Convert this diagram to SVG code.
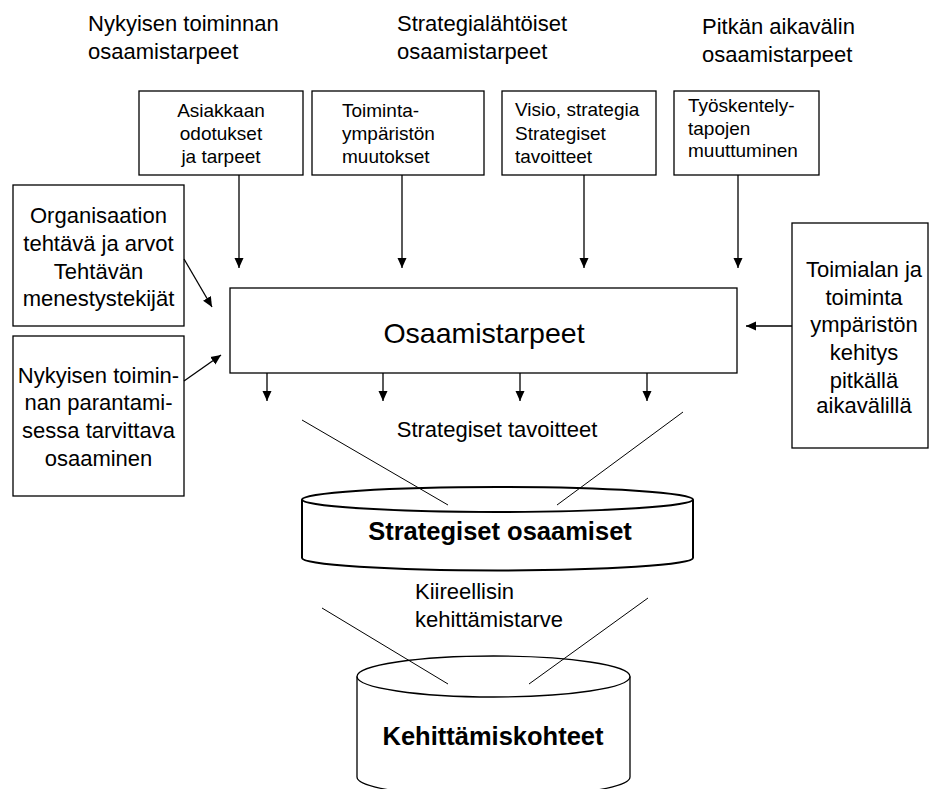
<svg xmlns="http://www.w3.org/2000/svg" width="929" height="789" viewBox="0 0 929 789">
<style>
text{font-family:"Liberation Sans",Arial,sans-serif;fill:#000}
.lbl{font-size:22px}
.sm{font-size:19px}
.big{font-size:28.5px}
.bold{font-size:25.5px;font-weight:bold}
.box{fill:#fff;stroke:#000;stroke-width:1.3}
.cyl{fill:#fff;stroke:#000;stroke-width:2}
.ln{stroke:#000;stroke-width:1.3;fill:none}
.thin{stroke:#000;stroke-width:1;fill:none}
</style>
<defs>
<marker id="ah" markerUnits="userSpaceOnUse" markerWidth="10" markerHeight="10" viewBox="0 0 10 10" refX="10" refY="5" orient="auto">
<path d="M0,0.5 L10,5 L0,9.5 Z" fill="#000"/>
</marker>
</defs>
<rect width="929" height="789" fill="#fff"/>

<g id="header1"><text class="lbl" x="88" y="31">Nykyisen toiminnan</text><text class="lbl" x="88" y="59">osaamistarpeet</text></g>
<g id="header2"><text class="lbl" x="397" y="31">Strategialähtöiset</text><text class="lbl" x="397" y="59">osaamistarpeet</text></g>
<g id="header3"><text class="lbl" x="702" y="34">Pitkän aikavälin</text><text class="lbl" x="702" y="62">osaamistarpeet</text></g>

<g id="n_asiakkaan"><rect class="box" x="139" y="91" width="164" height="84"/>
<text class="sm" text-anchor="middle" x="221" y="117">Asiakkaan</text>
<text class="sm" text-anchor="middle" x="221" y="140">odotukset</text>
<text class="sm" text-anchor="middle" x="221" y="163">ja tarpeet</text></g>

<g id="n_toimintaymparisto"><rect class="box" x="312" y="91" width="172" height="84"/>
<text class="sm" x="342" y="117">Toiminta-</text>
<text class="sm" x="342" y="140">ympäristön</text>
<text class="sm" x="342" y="163">muutokset</text></g>

<g id="n_visio"><rect class="box" x="502" y="91" width="154" height="84"/>
<text class="sm" x="515" y="116">Visio, strategia</text>
<text class="sm" x="515" y="140">Strategiset</text>
<text class="sm" x="515" y="163">tavoitteet</text></g>

<g id="n_tyoskentely"><rect class="box" x="674" y="91" width="145" height="84"/>
<text class="sm" x="688" y="112">Työskentely-</text>
<text class="sm" x="688" y="135">tapojen</text>
<text class="sm" x="688" y="157">muuttuminen</text></g>

<g id="n_organisaatio"><rect class="box" x="13" y="185" width="171" height="141"/>
<text class="lbl" text-anchor="middle" x="98.5" y="223">Organisaation</text>
<text class="lbl" text-anchor="middle" x="98.5" y="251">tehtävä ja arvot</text>
<text class="lbl" text-anchor="middle" x="98.5" y="279">Tehtävän</text>
<text class="lbl" text-anchor="middle" x="98.5" y="306">menestystekijät</text></g>

<g id="n_parantaminen"><rect class="box" x="13" y="336" width="171" height="160"/>
<text class="lbl" text-anchor="middle" x="98.5" y="383">Nykyisen toimin-</text>
<text class="lbl" text-anchor="middle" x="98.5" y="410">nan parantami-</text>
<text class="lbl" text-anchor="middle" x="98.5" y="438">sessa tarvittava</text>
<text class="lbl" text-anchor="middle" x="98.5" y="466">osaaminen</text></g>

<g id="n_toimiala"><rect class="box" x="792" y="223" width="136" height="225"/>
<text class="lbl" text-anchor="middle" x="864" y="277">Toimialan ja</text>
<text class="lbl" text-anchor="middle" x="864" y="305">toiminta</text>
<text class="lbl" text-anchor="middle" x="864" y="332">ympäristön</text>
<text class="lbl" text-anchor="middle" x="864" y="360">kehitys</text>
<text class="lbl" text-anchor="middle" x="864" y="388">pitkällä</text>
<text class="lbl" text-anchor="middle" x="864" y="413">aikavälillä</text></g>

<g id="n_osaamistarpeet"><rect class="box" x="230" y="288" width="507" height="85"/>
<text class="big" text-anchor="middle" x="484" y="343">Osaamistarpeet</text></g>

<g id="l_strategiset_tavoitteet"><text class="lbl" text-anchor="middle" x="497" y="437">Strategiset tavoitteet</text></g>
<g id="l_kiireellisin"><text class="lbl" x="415" y="599">Kiireellisin</text><text class="lbl" x="415" y="627">kehittämistarve</text></g>

<g id="n_strategiset_osaamiset">
<path class="cyl" d="M302,499.5 V558 A195.5,12.5 0 0,0 693,558 V499.5"/>
<ellipse class="cyl" cx="497.5" cy="499.5" rx="195.5" ry="12.5"/>
<text class="bold" text-anchor="middle" x="500" y="540">Strategiset osaamiset</text></g>

<g id="n_kehittamiskohteet">
<path class="ln" d="M357,676.5 V777 A136.5,20 0 0,0 630,777 V676.5"/>
<ellipse class="ln" cx="493.5" cy="676.5" rx="136.5" ry="20.5" fill="#fff"/>
<text class="bold" text-anchor="middle" x="493" y="745">Kehittämiskohteet</text></g>

<g id="connectors">
<line class="ln" x1="239" y1="175" x2="239" y2="268" marker-end="url(#ah)"/>
<line class="ln" x1="402" y1="175" x2="402" y2="268" marker-end="url(#ah)"/>
<line class="ln" x1="584" y1="175" x2="584" y2="268" marker-end="url(#ah)"/>
<line class="ln" x1="738" y1="175" x2="738" y2="268" marker-end="url(#ah)"/>
<line class="ln" x1="184" y1="259" x2="212" y2="307" marker-end="url(#ah)"/>
<line class="ln" x1="184" y1="381" x2="221" y2="355" marker-end="url(#ah)"/>
<line class="ln" x1="792" y1="326" x2="746" y2="326" marker-end="url(#ah)"/>
<line class="ln" x1="267" y1="373" x2="267" y2="401" marker-end="url(#ah)"/>
<line class="ln" x1="383" y1="373" x2="383" y2="401" marker-end="url(#ah)"/>
<line class="ln" x1="520" y1="373" x2="520" y2="401" marker-end="url(#ah)"/>
<line class="ln" x1="647" y1="373" x2="647" y2="401" marker-end="url(#ah)"/>
<line class="thin" x1="302" y1="420" x2="448" y2="505"/>
<line class="thin" x1="683" y1="412" x2="557" y2="505"/>
<line class="thin" x1="322" y1="608" x2="448" y2="684"/>
<line class="thin" x1="648" y1="598" x2="529" y2="684"/>
</g>
</svg>
